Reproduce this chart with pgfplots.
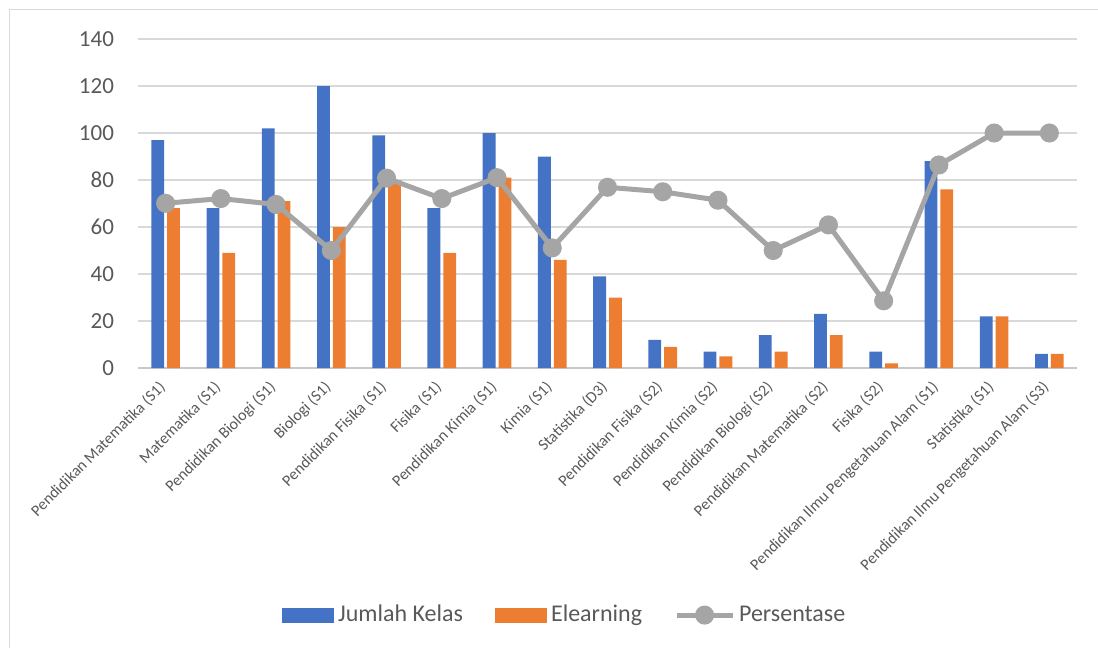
\documentclass[border=0pt]{standalone}
\usepackage{fontspec}
\setmainfont{Carlito}
\usepackage{pgfplots}
\pgfplotsset{compat=1.18}
\definecolor{cblue}{HTML}{4472C4}
\definecolor{corange}{HTML}{ED7D31}
\definecolor{cgrey}{HTML}{A5A5A5}
\definecolor{ctext}{HTML}{595959}
\definecolor{cgrid}{HTML}{D9D9D9}
\definecolor{caxis}{HTML}{C8C8C8}
\begin{document}
\begin{tikzpicture}
\useasboundingbox (0,0) rectangle (549pt,-324pt);
\draw[cgrid, line width=0.7pt] (4.6pt,-324pt) -- (4.6pt,-4.6pt) -- (549pt,-4.6pt);
\begin{axis}[
  at={(69pt,-184pt)}, anchor=south west,
  scale only axis, width=469.5pt, height=164.5pt,
  xmin=-0.5, xmax=16.5, ymin=0, ymax=140,
  ytick={20,40,...,140},
  extra y ticks={0},
  extra y tick style={grid style={draw=caxis, line width=0.8pt}},
  xtick={0,...,16},
  xticklabels={Pendidikan Matematika (S1),Matematika (S1),Pendidikan Biologi (S1),Biologi (S1),Pendidikan Fisika (S1),Fisika (S1),Pendidikan Kimia (S1),Kimia (S1),Statistika (D3),Pendidikan Fisika (S2),Pendidikan Kimia (S2),Pendidikan Biologi (S2),Pendidikan Matematika (S2),Fisika (S2),Pendidikan Ilmu Pengetahuan Alam (S1),Statistika (S1),Pendidikan Ilmu Pengetahuan Alam (S3)},
  ymajorgrids,
  grid style={draw=cgrid, line width=0.6pt},
  axis line style={draw=none},
  major tick length=0pt,
  /pgf/number format/assume math mode=true,
  yticklabel style={font=\fontsize{11.5}{13}\selectfont, text=ctext, anchor=east, xshift=-8.5pt},
  xticklabel style={font=\fontsize{8}{9.6}\selectfont, text=ctext, rotate=45, anchor=east, xshift=-3.5pt, yshift=-5pt},
  legend style={at={(0.4555,-0.751)}, anchor=center, legend columns=-1, draw=none, fill=none,
    font=\fontsize{12}{14}\selectfont, text=ctext,
    /tikz/every even column/.append style={column sep=14pt}},
  bar legend/.style={legend image code/.code={\fill[##1, draw=none] (0pt,-3.75pt) rectangle (26pt,3.75pt);}},
]
\addplot[ybar, bar width=6.4pt, bar shift=-3.95pt, fill=cblue, draw=none, bar legend] coordinates {
(0,97) (1,68) (2,102) (3,120) (4,99) (5,68) (6,100) (7,90) (8,39) (9,12) (10,7) (11,14) (12,23) (13,7) (14,88) (15,22) (16,6)};
\addlegendentry{Jumlah Kelas}
\addplot[ybar, bar width=6.4pt, bar shift=3.95pt, fill=corange, draw=none, bar legend] coordinates {
(0,68) (1,49) (2,71) (3,60) (4,80) (5,49) (6,81) (7,46) (8,30) (9,9) (10,5) (11,7) (12,14) (13,2) (14,76) (15,22) (16,6)};
\addlegendentry{Elearning}
\addplot[cgrey, line width=2.5pt, mark=*, mark size=3.5pt, mark options={fill=cgrey, draw=none},
  legend image code/.code={\draw[cgrey, line width=2.5pt] (0pt,0pt) -- (28pt,0pt); \fill[cgrey] (14pt,0pt) circle (3.5pt);}] coordinates {
(0,70.1) (1,72.1) (2,69.6) (3,50.0) (4,80.8) (5,72.1) (6,81.0) (7,51.1) (8,76.9) (9,75.0) (10,71.4) (11,50.0) (12,60.9) (13,28.6) (14,86.4) (15,100) (16,100)};
\addlegendentry{Persentase}
\end{axis}
\end{tikzpicture}
\end{document}
